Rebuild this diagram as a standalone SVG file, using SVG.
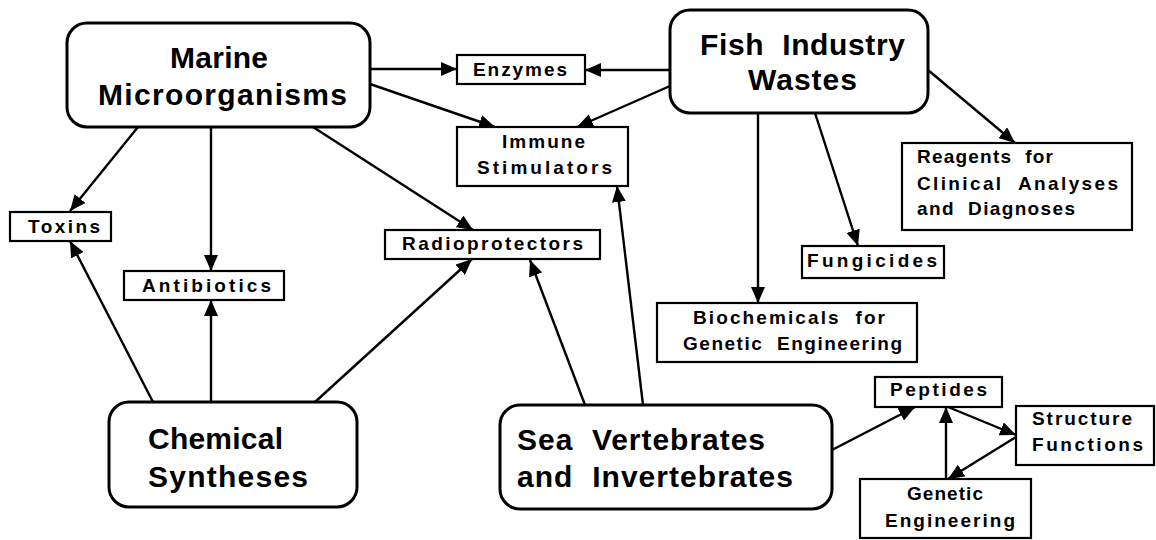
<svg xmlns="http://www.w3.org/2000/svg" width="1156" height="540" viewBox="0 0 1156 540">
<style>
.big{fill:#fff;stroke:#000;stroke-width:3}
.box{fill:#fff;stroke:#000;stroke-width:2.2}
.bt{font-family:"Liberation Sans",Arial,sans-serif;font-weight:bold;font-size:30px;fill:#000}
.st{font-family:"Liberation Sans",Arial,sans-serif;font-weight:bold;font-size:19px;fill:#000}
.c line{stroke:#000;stroke-width:2.4;marker-end:url(#ah)}
</style>
<defs>
<marker id="ah" markerUnits="userSpaceOnUse" markerWidth="16" markerHeight="14" refX="16" refY="7" orient="auto">
<path d="M0,0 L16,7 L0,14 z" fill="#000"/>
</marker>
</defs>
<rect width="1156" height="540" fill="#fff"/>
<g class="c" id="connectors">
<line x1="370" y1="69" x2="457" y2="69"/>
<line x1="670" y1="70" x2="585" y2="70"/>
<line x1="370" y1="84" x2="495" y2="127"/>
<line x1="670" y1="86" x2="577" y2="127"/>
<line x1="138" y1="127" x2="70" y2="211"/>
<line x1="211" y1="127" x2="211" y2="271"/>
<line x1="313" y1="127" x2="473" y2="230"/>
<line x1="153" y1="402" x2="70" y2="241"/>
<line x1="211" y1="402" x2="211" y2="300"/>
<line x1="315" y1="402" x2="472" y2="259"/>
<line x1="585" y1="405" x2="530" y2="260"/>
<line x1="643" y1="405" x2="617" y2="186"/>
<line x1="758" y1="113" x2="758" y2="303"/>
<line x1="815" y1="113" x2="858" y2="246"/>
<line x1="928" y1="70" x2="1015" y2="143"/>
<line x1="832" y1="450" x2="915" y2="407"/>
<line x1="948" y1="407" x2="1016" y2="435"/>
<line x1="1016" y1="437" x2="948" y2="479"/>
<line x1="946" y1="479" x2="946" y2="407"/>
</g>
<g id="marine">
<rect class="big" x="67" y="23" width="303" height="104" rx="20"/>
<text class="bt" x="170" y="68" textLength="98" lengthAdjust="spacing">Marine</text>
<text class="bt" x="98" y="105" textLength="249" lengthAdjust="spacing">Microorganisms</text>
</g>
<g id="fish">
<rect class="big" x="670" y="10" width="258" height="103" rx="20"/>
<text class="bt" x="700" y="55" textLength="205" lengthAdjust="spacing" xml:space="preserve">Fish  Industry</text>
<text class="bt" x="748" y="90" textLength="109" lengthAdjust="spacing">Wastes</text>
</g>
<g id="chemical">
<rect class="big" x="109" y="402" width="248" height="105" rx="20"/>
<text class="bt" x="148" y="449" textLength="135" lengthAdjust="spacing">Chemical</text>
<text class="bt" x="148" y="487" textLength="160" lengthAdjust="spacing">Syntheses</text>
</g>
<g id="sea">
<rect class="big" x="500" y="405" width="332" height="104" rx="20"/>
<text class="bt" x="517" y="450" textLength="248" lengthAdjust="spacing" xml:space="preserve">Sea  Vertebrates</text>
<text class="bt" x="517" y="487" textLength="276" lengthAdjust="spacing" xml:space="preserve">and  Invertebrates</text>
</g>
<g id="enzymes">
<rect class="box" x="457" y="55" width="128" height="29"/>
<text class="st" x="473" y="76" textLength="94" lengthAdjust="spacing">Enzymes</text>
</g>
<g id="immune">
<rect class="box" x="457" y="127" width="171" height="59"/>
<text class="st" x="502" y="148" textLength="83" lengthAdjust="spacing">Immune</text>
<text class="st" x="477" y="174" textLength="135" lengthAdjust="spacing">Stimulators</text>
</g>
<g id="toxins">
<rect class="box" x="10" y="212" width="101" height="29"/>
<text class="st" x="28" y="233" textLength="72" lengthAdjust="spacing">Toxins</text>
</g>
<g id="antibiotics">
<rect class="box" x="124" y="271" width="160" height="29"/>
<text class="st" x="142" y="292" textLength="129" lengthAdjust="spacing">Antibiotics</text>
</g>
<g id="radioprotectors">
<rect class="box" x="385" y="230" width="215" height="29"/>
<text class="st" x="402" y="250" textLength="181" lengthAdjust="spacing">Radioprotectors</text>
</g>
<g id="biochemicals">
<rect class="box" x="657" y="303" width="260" height="59"/>
<text class="st" x="693" y="324" textLength="192" lengthAdjust="spacing" xml:space="preserve">Biochemicals  for</text>
<text class="st" x="683" y="350" textLength="219" lengthAdjust="spacing" xml:space="preserve">Genetic  Engineering</text>
</g>
<g id="fungicides">
<rect class="box" x="802" y="246" width="142" height="32"/>
<text class="st" x="807" y="267" textLength="130" lengthAdjust="spacing">Fungicides</text>
</g>
<g id="reagents">
<rect class="box" x="902" y="143" width="230" height="87"/>
<text class="st" x="917" y="163" textLength="136" lengthAdjust="spacing" xml:space="preserve">Reagents  for</text>
<text class="st" x="917" y="190" textLength="201" lengthAdjust="spacing" xml:space="preserve">Clinical  Analyses</text>
<text class="st" x="917" y="215" textLength="158" lengthAdjust="spacing" xml:space="preserve">and  Diagnoses</text>
</g>
<g id="peptides">
<rect class="box" x="875" y="377" width="127" height="30"/>
<text class="st" x="890" y="396" textLength="97" lengthAdjust="spacing">Peptides</text>
</g>
<g id="structure">
<rect class="box" x="1016" y="406" width="138" height="59"/>
<text class="st" x="1032" y="425" textLength="100" lengthAdjust="spacing">Structure</text>
<text class="st" x="1032" y="451" textLength="111" lengthAdjust="spacing">Functions</text>
</g>
<g id="genetic">
<rect class="box" x="860" y="479" width="171" height="59"/>
<text class="st" x="907" y="500" textLength="76" lengthAdjust="spacing">Genetic</text>
<text class="st" x="885" y="527" textLength="130" lengthAdjust="spacing">Engineering</text>
</g>
</svg>
